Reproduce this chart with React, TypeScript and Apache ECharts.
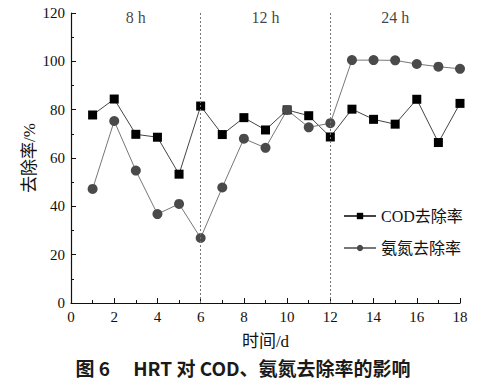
import React, { useEffect, useRef } from "react";
import * as echarts from "echarts";

const days = [1, 2, 3, 4, 5, 6, 7, 8, 9, 10, 11, 12, 13, 14, 15, 16, 17, 18];
const codRemoval = [77.8, 84.4, 69.8, 68.6, 53.3, 81.5, 69.7, 76.7, 71.6, 79.9, 77.5, 68.7, 80.2, 76.0, 74.0, 84.3, 66.4, 82.6];
const nh3Removal = [47.2, 75.3, 54.8, 36.8, 41.0, 26.9, 47.8, 68.0, 64.2, 79.9, 72.7, 74.4, 100.5, 100.5, 100.4, 98.9, 97.8, 96.9];
const phaseBounds = [6, 12];
const phaseLabels = ["8 h", "12 h", "24 h"];
const phaseLabelX = [3, 9, 15];
const phaseLabelY = 115;

const serif = "Liberation Serif, DejaVu Serif, Noto Sans CJK SC, serif";

export default function App() {
  const ref = useRef<HTMLDivElement>(null);
  useEffect(() => {
    if (!ref.current) return;
    const chart = echarts.init(ref.current, null, { renderer: "svg" });
    chart.setOption({
      animation: false,
      backgroundColor: "#fff",
      textStyle: { fontFamily: serif },
      title: {
        text: "图 6　 HRT 对 COD、氨氮去除率的影响",
        left: "center",
        bottom: 1,
        textStyle: { fontFamily: "Noto Sans CJK SC, sans-serif", fontSize: 19, fontWeight: "bold", color: "#1a1a1a" },
      },
      grid: { left: 71, right: 26, top: 13, bottom: 80 },
      legend: {
        data: ["COD去除率", "氨氮去除率"],
        orient: "vertical",
        left: 338,
        top: 203,
        itemWidth: 32,
        itemHeight: 8,
        itemGap: 16,
        textStyle: { fontFamily: serif, fontSize: 16, color: "#111" },
      },
      xAxis: {
        type: "value",
        min: 0,
        max: 18,
        interval: 2,
        name: "时间/d",
        nameLocation: "middle",
        nameGap: 30,
        nameMoveOverlap: false,
        nameTextStyle: { fontFamily: serif, fontSize: 17, color: "#111" },
        axisLine: { lineStyle: { color: "#111", width: 1.2 } },
        axisTick: { inside: true, length: 5, lineStyle: { color: "#111" } },
        minorTick: { show: true, splitNumber: 2, length: 3, lineStyle: { color: "#111" } },
        axisLabel: { fontFamily: serif, fontSize: 15, color: "#111", margin: 6 },
        splitLine: { show: false },
      },
      yAxis: {
        type: "value",
        min: 0,
        max: 120,
        interval: 20,
        name: "去除率/%",
        nameLocation: "middle",
        nameRotate: 90,
        nameGap: 33,
        nameMoveOverlap: false,
        nameTextStyle: { fontFamily: serif, fontSize: 17, color: "#111" },
        axisLine: { show: true, lineStyle: { color: "#111", width: 1.2 } },
        axisTick: { show: true, inside: true, length: 5, lineStyle: { color: "#111" } },
        minorTick: { show: true, splitNumber: 2, length: 3, lineStyle: { color: "#111" } },
        axisLabel: { fontFamily: serif, fontSize: 15, color: "#111", margin: 6 },
        splitLine: { show: false },
      },
      series: [
        {
          name: "COD去除率",
          type: "line",
          data: days.map((d, i) => [d, codRemoval[i]]),
          symbol: "rect",
          symbolSize: 9,
          itemStyle: { color: "#000" },
          lineStyle: { color: "#444", width: 1 },
          markLine: {
            silent: true,
            symbol: "none",
            label: { show: false },
            lineStyle: { color: "#777", type: [2, 2], width: 1 },
            data: phaseBounds.map((b) => ({ xAxis: b })),
          },
        },
        {
          name: "氨氮去除率",
          type: "line",
          data: days.map((d, i) => [d, nh3Removal[i]]),
          symbol: "circle",
          symbolSize: 10,
          itemStyle: { color: "#4a4a4a" },
          lineStyle: { color: "#777", width: 1 },
        },
        {
          name: "phase",
          type: "scatter",
          silent: true,
          symbolSize: 0,
          itemStyle: { color: "#111" },
          data: phaseLabels.map((t, i) => ({ value: [phaseLabelX[i], phaseLabelY], name: t })),
          label: {
            show: true,
            position: "top",
            distance: 0,
            formatter: (p: any) => p.name,
            fontFamily: serif,
            fontSize: 16,
            color: "#111",
          },
        },
      ],
    });
    return () => chart.dispose();
  }, []);
  return <div ref={ref} style={{ width: 486, height: 383, position: "absolute", left: 0, top: 0 }} />;
}
